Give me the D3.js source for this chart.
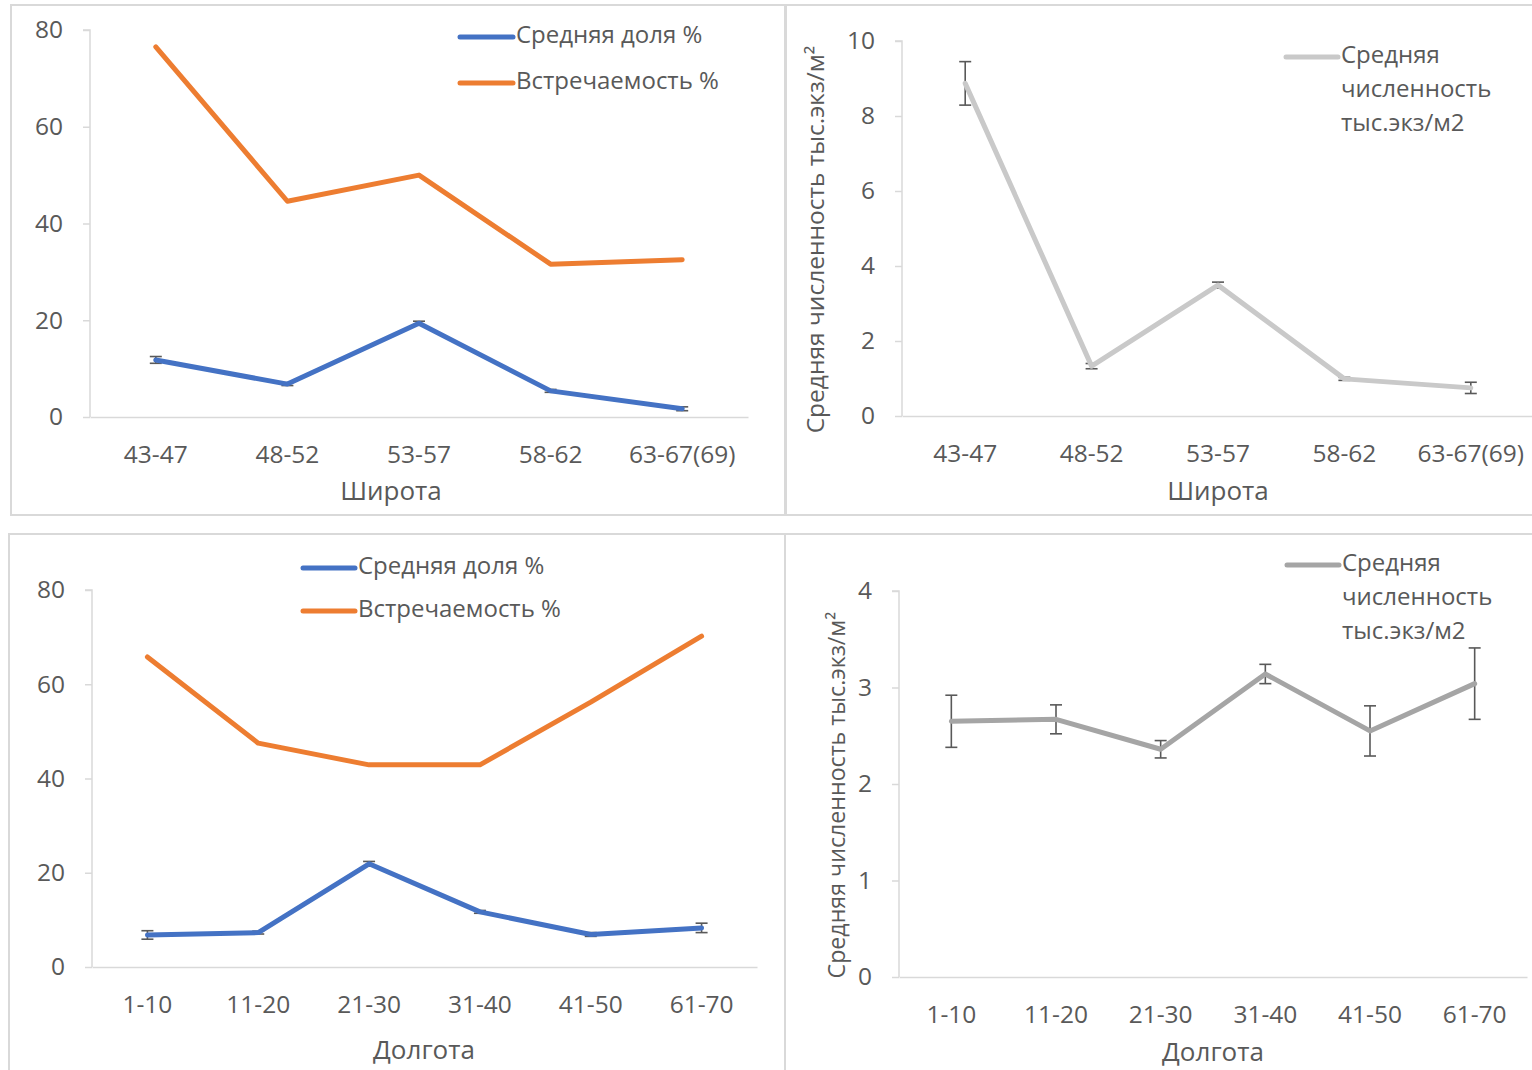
<!DOCTYPE html>
<html>
<head>
<meta charset="utf-8">
<script src="https://cdn.jsdelivr.net/npm/d3@7"></script>
<style>
  body { margin: 0; background: #fff; }
  svg { display: block; font-family: 'Open Sans', 'Noto Sans', sans-serif; }
  .tick text { fill: #595959; }
</style>
</head>
<body>
<svg id="chart" width="1532" height="1070"></svg>
<script>
// latitude bands
const latCats = ['43-47', '48-52', '53-57', '58-62', '63-67(69)'];
const latShare = [11.8, 6.8, 19.4, 5.4, 1.7];
const latShareErr = [0.7, 0.3, 0.4, 0.3, 0.4];
const latOccur = [76.5, 44.6, 50.0, 31.6, 32.5];
const latDensity = [8.87, 1.33, 3.49, 0.99, 0.75];
const latDensityErr = [0.58, 0.07, 0.08, 0.04, 0.15];

// longitude bands
const lonCats = ['1-10', '11-20', '21-30', '31-40', '41-50', '61-70'];
const lonShare = [6.8, 7.3, 21.9, 11.7, 6.9, 8.3];
const lonShareErr = [0.9, 0.3, 0.5, 0.3, 0.4, 1.0];
const lonOccur = [65.8, 47.5, 42.9, 42.9, 56.2, 70.2];
const lonDensity = [2.65, 2.67, 2.36, 3.14, 2.55, 3.04];
const lonDensityErr = [0.27, 0.15, 0.09, 0.10, 0.26, 0.37];

const pctTicks = [0, 20, 40, 60, 80];
const latDensTicks = [0, 2, 4, 6, 8, 10];
const lonDensTicks = [0, 1, 2, 3, 4];

const BLUE = '#4472C4', ORANGE = '#ED7D31';
const svg = d3.select('#chart');

const panels = [
  {
    box: [11, 5, 774, 510], x: [90, 748], y: [417, 30], max: 80, ticks: pctTicks,
    cats: latCats, xTitle: 'Широта', xTitleX: 391, xTitleDy: 76,
    series: [
      {values: latOccur, color: ORANGE, label: ['Встречаемость %'], ly: 83},
      {values: latShare, err: latShareErr, color: BLUE, label: ['Средняя доля %'], ly: 37}
    ],
    legendX: [460, 513]
  },
  {
    box: [786, 5, 760, 510], x: [902, 1534], y: [416, 41], max: 10, ticks: latDensTicks,
    cats: latCats, xTitle: 'Широта', xTitleX: 1218, xTitleDy: 77,
    yTitle: 'Средняя численность тыс.экз/м²', yTitleX: 817, yTitleSize: 24.5,
    series: [
      {values: latDensity, err: latDensityErr, color: '#C9C9C9',
        label: ['Средняя', 'численность', 'тыс.экз/м2'], ly: 57}
    ],
    legendX: [1286, 1338]
  },
  {
    box: [9, 534, 776, 560], x: [92, 757], y: [967, 590], max: 80, ticks: pctTicks,
    cats: lonCats, xTitle: 'Долгота', xTitleX: 424, xTitleDy: 85,
    series: [
      {values: lonOccur, color: ORANGE, label: ['Встречаемость %'], ly: 611},
      {values: lonShare, err: lonShareErr, color: BLUE, label: ['Средняя доля %'], ly: 568}
    ],
    legendX: [303, 355]
  },
  {
    box: [785, 534, 760, 560], x: [899, 1527], y: [977, 591], max: 4, ticks: lonDensTicks,
    cats: lonCats, xTitle: 'Долгота', xTitleX: 1213, xTitleDy: 77,
    yTitle: 'Средняя численность тыс.экз/м²', yTitleX: 839, yTitleSize: 23.2,
    series: [
      {values: lonDensity, err: lonDensityErr, color: '#A5A5A5',
        label: ['Средняя', 'численность', 'тыс.экз/м2'], ly: 565}
    ],
    legendX: [1287, 1339]
  }
];

panels.forEach(drawPanel);

function drawPanel(p) {
  const g = svg.append('g');
  // chart area border
  g.append('rect')
    .attr('x', p.box[0]).attr('y', p.box[1])
    .attr('width', p.box[2]).attr('height', p.box[3])
    .attr('fill', '#fff').attr('stroke', '#D9D9D9').attr('stroke-width', 2);

  const x = d3.scaleBand().domain(p.cats).range(p.x);
  const y = d3.scaleLinear().domain([0, p.max]).range(p.y);
  const cx = d => x(d) + x.bandwidth() / 2;

  // y axis
  const yAxis = g.append('g')
    .attr('transform', `translate(${p.x[0]},0)`)
    .call(d3.axisLeft(y).tickValues(p.ticks).tickSize(7).tickPadding(20).tickFormat(d3.format('d')));
  yAxis.select('.domain').attr('stroke', '#D9D9D9').attr('stroke-width', 1.5)
    .attr('d', `M-7,${p.y[1]}H0V${p.y[0]}`);
  yAxis.selectAll('.tick line').attr('stroke', '#D9D9D9').attr('stroke-width', 1.5);
  yAxis.selectAll('.tick text').attr('font-size', 24.5).attr('font-family', 'Open Sans');

  // x axis
  const xAxis = g.append('g')
    .attr('transform', `translate(0,${p.y[0]})`)
    .call(d3.axisBottom(x).tickSize(0).tickPadding(29));
  xAxis.select('.domain').attr('stroke', '#D9D9D9').attr('stroke-width', 1.5);
  xAxis.selectAll('.tick text').attr('font-size', 24.5).attr('font-family', 'Open Sans');

  // axis titles
  g.append('text')
    .attr('x', p.xTitleX).attr('y', p.y[0] + p.xTitleDy)
    .attr('text-anchor', 'middle').attr('dominant-baseline', 'middle')
    .attr('font-size', 26).attr('fill', '#595959')
    .text(p.xTitle);
  if (p.yTitle) {
    g.append('text')
      .attr('transform', `translate(${p.yTitleX},${(p.y[0] + p.y[1]) / 2 + 11}) rotate(-90)`)
      .attr('text-anchor', 'middle').attr('dominant-baseline', 'middle')
      .attr('font-size', p.yTitleSize).attr('fill', '#595959')
      .text(p.yTitle);
  }

  const line = d3.line().x((d, i) => cx(p.cats[i])).y(d => y(d));

  p.series.forEach(s => {
    // error bars
    if (s.err) {
      const eb = g.append('g').attr('stroke', '#595959').attr('stroke-width', 1.6);
      s.values.forEach((v, i) => {
        const xc = cx(p.cats[i]);
        const lo = y(v - s.err[i]), hi = y(v + s.err[i]);
        eb.append('line').attr('x1', xc).attr('x2', xc).attr('y1', lo).attr('y2', hi);
        eb.append('line').attr('x1', xc - 6).attr('x2', xc + 6).attr('y1', lo).attr('y2', lo);
        eb.append('line').attr('x1', xc - 6).attr('x2', xc + 6).attr('y1', hi).attr('y2', hi);
      });
    }
    g.append('path')
      .datum(s.values)
      .attr('d', line)
      .attr('fill', 'none')
      .attr('stroke', s.color)
      .attr('stroke-width', 5)
      .attr('stroke-linejoin', 'round')
      .attr('stroke-linecap', 'round');

    // legend entry
    g.append('line')
      .attr('x1', p.legendX[0]).attr('x2', p.legendX[1])
      .attr('y1', s.ly).attr('y2', s.ly)
      .attr('stroke', s.color).attr('stroke-width', 5).attr('stroke-linecap', 'round');
    const t = g.append('text')
      .attr('x', p.legendX[1] + 3).attr('y', s.ly)
      .attr('font-size', 24).attr('fill', '#595959')
      .attr('dominant-baseline', 'middle');
    s.label.forEach((l, k) => {
      t.append('tspan').attr('x', p.legendX[1] + 3).attr('dy', k ? 34 : 0).text(l);
    });
  });
}
</script>
</body>
</html>
